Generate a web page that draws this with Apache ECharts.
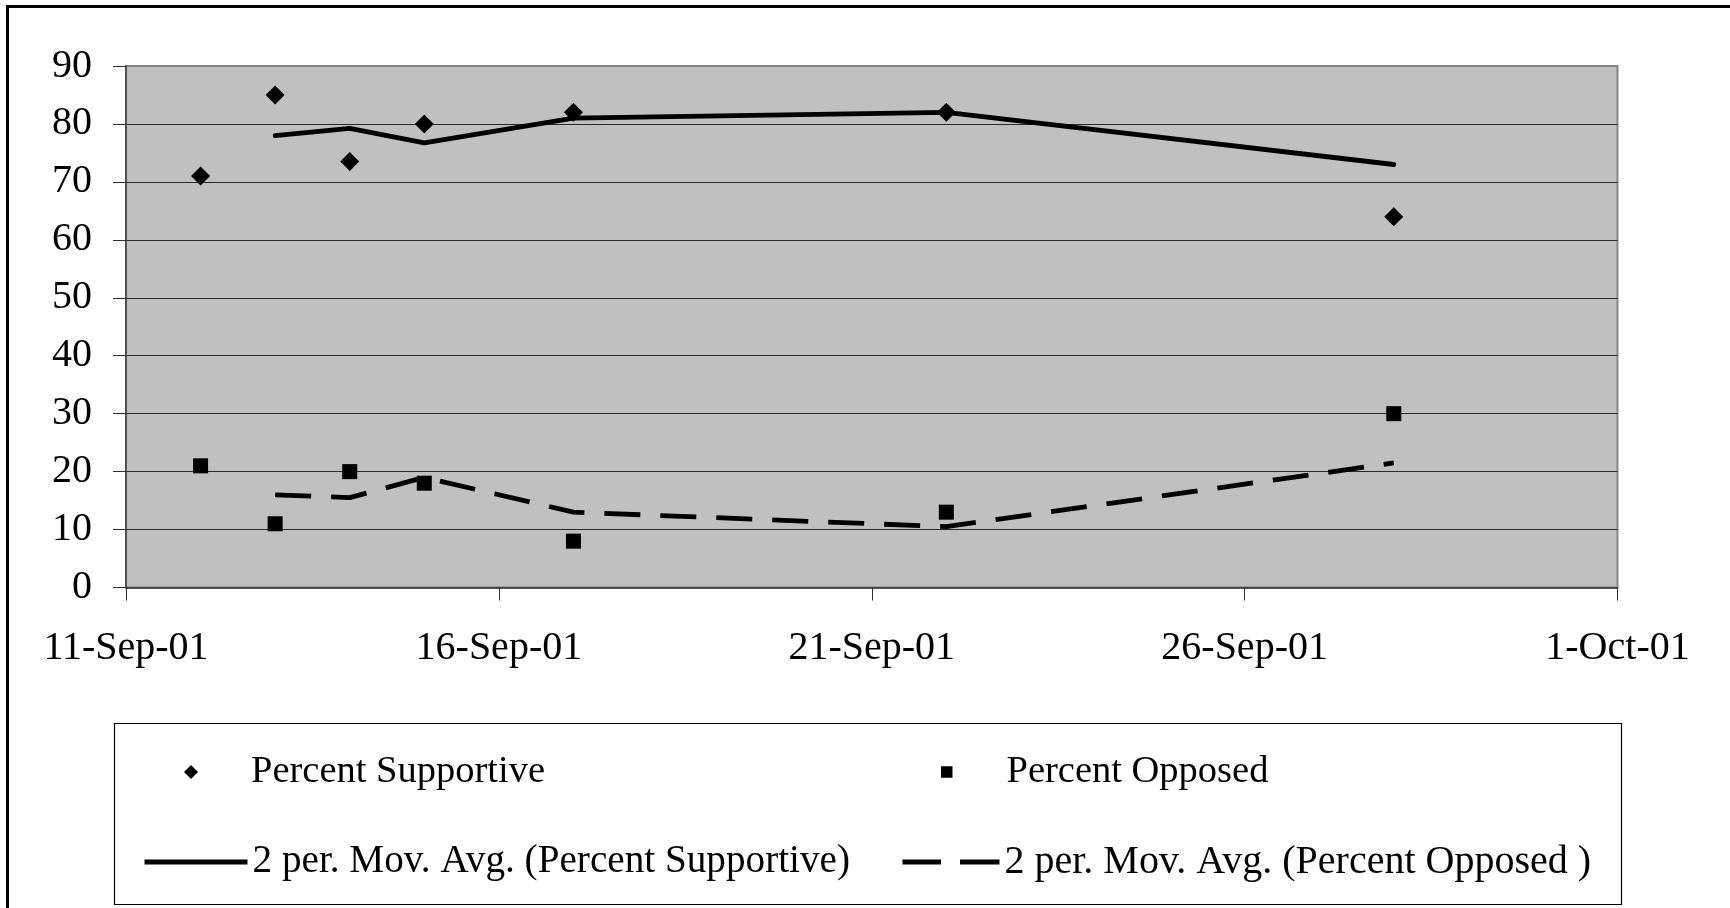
<!DOCTYPE html>
<html>
<head>
<meta charset="utf-8">
<title>Percent Supportive / Percent Opposed, September 2001</title>
<script src="https://cdn.jsdelivr.net/npm/echarts@6/dist/echarts.min.js"></script>
<style>
  html, body { margin: 0; padding: 0; background: #ffffff; }
  #chart { width: 1730px; height: 908px; }
</style>
</head>
<body>
<div id="chart"></div>
<script>
// Poll dates and results
const pollDates = ['2001-09-12', '2001-09-13', '2001-09-14', '2001-09-15', '2001-09-17', '2001-09-22', '2001-09-28'];
const percentSupportive = [71, 85, 73.5, 80, 82, 82, 64];
const percentOpposed = [21, 11, 20, 18, 8, 13, 30];

// Axis ticks
const axisStartDate = '2001-09-11';
const axisEndDate = '2001-10-01';
const xTickLabels = ['11-Sep-01', '16-Sep-01', '21-Sep-01', '26-Sep-01', '1-Oct-01'];
const yTickValues = [0, 10, 20, 30, 40, 50, 60, 70, 80, 90];

const seriesNames = [
  'Percent Supportive',
  'Percent Opposed',
  '2 per. Mov. Avg. (Percent Supportive)',
  '2 per. Mov. Avg. (Percent Opposed )'
];

// x positions are days counted from the first axis date
const DAY_MS = 86400000;
const dayOffset = d => Math.round((Date.parse(d) - Date.parse(axisStartDate)) / DAY_MS);
const xs = pollDates.map(dayOffset);
const xMax = dayOffset(axisEndDate);
const xStep = xMax / (xTickLabels.length - 1);

const toPoints = vals => vals.map((v, i) => [xs[i], v]);
// two-period moving average, placed at the later of each pair of polls
const movingAverage2 = vals => vals.slice(1).map((v, i) => [xs[i + 1], (vals[i] + v) / 2]);

const FONT = "'Liberation Serif', 'Times New Roman', serif";
const INK = '#000000';
const TREND_WIDTH = 4.8;

const chart = echarts.init(document.getElementById('chart'), null, { renderer: 'canvas' });

const legendText = (pad, size) => ({
  fontFamily: FONT, fontSize: size, color: INK, lineHeight: 40,
  padding: [0, 0, 0, pad]
});

// legend swatches for the trend lines: a solid bar and a two-dash bar
const solidSwatch = 'path://M0 0H103V' + TREND_WIDTH + 'H0Z';
const dashedSwatch = 'path://M0 0H38.5V' + TREND_WIDTH + 'H0Z M57.5 0H97V' + TREND_WIDTH + 'H57.5Z';

chart.setOption({
  animation: false,
  backgroundColor: '#ffffff',
  grid: {
    left: 126, top: 66, right: 112.5, bottom: 320.5,
    show: true,
    backgroundColor: '#c0c0c0',
    borderColor: '#858585',
    borderWidth: 2
  },
  xAxis: {
    type: 'value',
    min: 0,
    max: xMax,
    interval: xStep,
    axisLine: { show: true, onZero: false, lineStyle: { color: '#303030', width: 1.5 } },
    axisTick: { show: true, inside: false, length: 13, lineStyle: { color: '#303030', width: 1 } },
    splitLine: { show: false },
    axisLabel: {
      margin: 41,
      fontFamily: FONT, fontSize: 40, color: INK,
      formatter: v => xTickLabels[Math.round(v / xStep)]
    }
  },
  yAxis: {
    type: 'value',
    min: yTickValues[0],
    max: yTickValues[yTickValues.length - 1],
    interval: yTickValues[1] - yTickValues[0],
    axisLine: { show: true, lineStyle: { color: '#404040', width: 1.5 } },
    axisTick: { show: true, inside: false, length: 13, lineStyle: { color: '#303030', width: 1 } },
    splitLine: { show: true, showMinLine: false, showMaxLine: false, lineStyle: { color: '#2a2a2a', width: 1.2 } },
    axisLabel: {
      margin: 34,
      fontFamily: FONT, fontSize: 40, color: INK
    }
  },
  legend: [
    {
      data: [{ name: seriesNames[0], icon: 'diamond' }], left: 184, top: 752, padding: 0,
      itemWidth: 14, itemHeight: 14, textStyle: legendText(48, 38.5),
      itemStyle: { color: INK, opacity: 1 }
    },
    {
      data: [{ name: seriesNames[1], icon: 'rect' }], left: 941, top: 752, padding: 0,
      itemWidth: 11.5, itemHeight: 11.5, textStyle: legendText(49, 38.5),
      itemStyle: { color: INK, opacity: 1 }
    },
    {
      data: [{ name: seriesNames[2], icon: solidSwatch }], left: 144.5, top: 842, padding: 0,
      itemWidth: 103, itemHeight: TREND_WIDTH, textStyle: legendText(0, 39.2),
      itemStyle: { color: INK, opacity: 1, borderWidth: 0 }
    },
    {
      data: [{ name: seriesNames[3], icon: dashedSwatch }], left: 902.5, top: 842, padding: 0,
      itemWidth: 97, itemHeight: TREND_WIDTH, textStyle: legendText(0, 40),
      itemStyle: { color: INK, opacity: 1, borderWidth: 0 }
    }
  ],
  graphic: [
    // outer chart frame
    {
      type: 'rect', silent: true, z: 100,
      shape: { x: 7.5, y: 6.5, width: 2000, height: 2000 },
      style: { fill: null, stroke: INK, lineWidth: 3 }
    },
    // legend frame
    {
      type: 'rect', silent: true, z: 100,
      shape: { x: 114.5, y: 723.5, width: 1507, height: 181 },
      style: { fill: null, stroke: INK, lineWidth: 1.2 }
    }
  ],
  series: [
    {
      name: seriesNames[0],
      type: 'scatter',
      symbol: 'diamond',
      symbolSize: 19,
      itemStyle: { color: INK, opacity: 1 },
      data: toPoints(percentSupportive),
      z: 4
    },
    {
      name: seriesNames[1],
      type: 'scatter',
      symbol: 'rect',
      symbolSize: 15,
      itemStyle: { color: INK, opacity: 1 },
      data: toPoints(percentOpposed),
      z: 4
    },
    {
      name: seriesNames[2],
      type: 'line',
      symbol: 'none',
      showSymbol: false,
      smooth: false,
      lineStyle: { color: INK, width: TREND_WIDTH, type: 'solid', cap: 'round', join: 'round' },
      itemStyle: { color: INK },
      data: movingAverage2(percentSupportive),
      z: 3
    },
    {
      name: seriesNames[3],
      type: 'line',
      symbol: 'none',
      showSymbol: false,
      smooth: false,
      lineStyle: { color: INK, width: TREND_WIDTH, type: [36, 20], cap: 'butt', join: 'round' },
      itemStyle: { color: INK },
      data: movingAverage2(percentOpposed),
      z: 3
    }
  ]
});
</script>
</body>
</html>
